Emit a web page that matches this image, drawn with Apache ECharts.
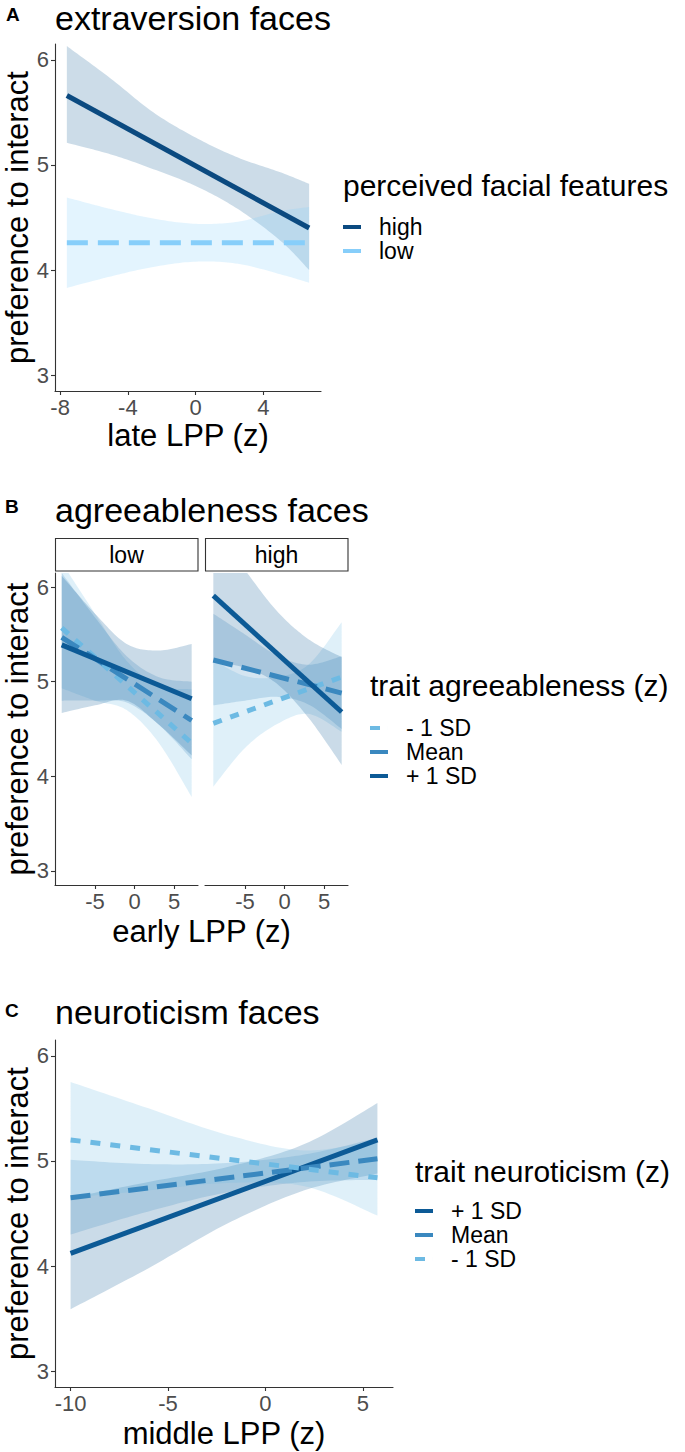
<!DOCTYPE html>
<html><head><meta charset="utf-8">
<script src="https://cdn.jsdelivr.net/npm/echarts@6/dist/echarts.min.js"></script>
<style>html,body{margin:0;padding:0;background:#fff}#c{width:685px;height:1452px}</style>
</head><body><div id="c"></div>
<script>
// ================= DATA =================
// Panel A: extraversion faces (x = late LPP (z))
const aLineX = [-7.6, 6.7];
const aHighLine = [5.66, 4.40];
const aLowLine = [4.26, 4.26];
const aBandX = [-7.6, -5, -2.5, 0, 2.5, 5, 6.7];
const aHighLower = [5.21, 5.10, 4.96, 4.80, 4.58, 4.28, 4.00];
const aHighUpper = [6.13, 5.82, 5.50, 5.26, 5.07, 4.93, 4.82];
const aLowLower = [3.83, 3.94, 4.03, 4.08, 4.06, 3.96, 3.88];
const aLowUpper = [4.69, 4.58, 4.49, 4.44, 4.46, 4.56, 4.60];
const aXTicks = [-8, -4, 0, 4];

// Panel B: agreeableness faces, facet "low" (x = early LPP (z))
const bLowLineX = [-9.2, 7.2];
const bLowMinusLine = [5.57, 4.35];
const bLowMeanLine = [5.47, 4.59];
const bLowPlusLine = [5.39, 4.82];
const bLowBandX = [-9.2, -5, -1, 3, 7.2];
const bLowMinusLower = [4.93, 4.80, 4.70, 4.36, 3.78];
const bLowMinusUpper = [6.26, 5.72, 5.22, 4.96, 4.92];
const bLowMeanLower = [4.80, 4.80, 4.78, 4.55, 4.18];
const bLowMeanUpper = [6.15, 5.68, 5.27, 5.05, 5.00];
const bLowPlusLower = [4.67, 4.75, 4.80, 4.55, 4.22];
const bLowPlusUpper = [6.12, 5.72, 5.40, 5.33, 5.40];

// Panel B: facet "high"
const bHighLineX = [-9.0, 7.2];
const bHighMinusLine = [4.56, 5.05];
const bHighMeanLine = [5.23, 4.88];
const bHighPlusLine = [5.91, 4.68];
const bHighBandX = [-9.0, -5, -1, 3, 7.2];
const bHighMinusLower = [3.89, 4.30, 4.55, 4.66, 4.47];
const bHighMinusUpper = [5.23, 5.06, 5.05, 5.18, 5.63];
const bHighMeanLower = [4.75, 4.80, 4.84, 4.76, 4.50];
const bHighMeanUpper = [5.72, 5.50, 5.28, 5.18, 5.27];
const bHighPlusLower = [5.20, 5.15, 4.98, 4.62, 4.12];
const bHighPlusUpper = [6.62, 6.18, 5.75, 5.45, 5.26];
const bXTicks = [-5, 0, 5];

// Panel C: neuroticism faces (x = middle LPP (z))
const cLineX = [-10, 5.75];
const cPlusLine = [4.12, 5.20];
const cMeanLine = [4.65, 5.02];
const cMinusLine = [5.20, 4.84];
const cBandX = [-10, -6, -2, 2, 5.75];
const cPlusLower = [3.59, 3.98, 4.40, 4.72, 4.88];
const cPlusUpper = [4.65, 4.80, 4.94, 5.16, 5.55];
const cMeanLower = [4.30, 4.52, 4.70, 4.80, 4.82];
const cMeanUpper = [5.01, 4.97, 4.98, 5.06, 5.22];
const cMinusLower = [4.65, 4.72, 4.79, 4.76, 4.48];
const cMinusUpper = [5.75, 5.50, 5.25, 5.10, 5.20];
const cXTicks = [-10, -5, 0, 5];

const yTicks = [3, 4, 5, 6];

// ================= STYLE =================
const FONT = '"Liberation Sans", Arial, Helvetica, sans-serif';
const C_HIGH = '#0B4A80', C_LOW = '#87CEFA';
const C_PLUS = '#0C5A96', C_MEAN = '#3A88BF', C_MINUS = '#6DBAE3';
const F_HIGH = 'rgba(25,95,150,0.22)', F_LOW = 'rgba(135,206,250,0.23)';
const F_PLUS = 'rgba(12,90,150,0.22)', F_MEAN = 'rgba(58,136,191,0.22)', F_MINUS = 'rgba(109,186,227,0.22)';
const LW = 5;

function zip(xs, ys) { return xs.map((x, i) => [x, ys[i]]); }

function lineSeries(name, gi, xs, ys, color, dash) {
  return {
    name: name, type: 'line', xAxisIndex: gi, yAxisIndex: gi,
    data: zip(xs, ys), symbol: 'none', showSymbol: false, silent: true, clip: true,
    itemStyle: { color: color },
    lineStyle: { color: color, width: LW, type: dash || 'solid', cap: 'butt' },
    z: 2
  };
}

// Catmull-Rom through pixel points (drawing only)
function spline(p) {
  const out = [];
  const n = p.length;
  for (let i = 0; i < n - 1; i++) {
    const p0 = p[Math.max(0, i - 1)], p1 = p[i], p2 = p[i + 1], p3 = p[Math.min(n - 1, i + 2)];
    const steps = 16;
    for (let s = 0; s < steps; s++) {
      const t = s / steps, t2 = t * t, t3 = t2 * t;
      const f = (a, b, c, d) => 0.5 * ((2 * b) + (-a + c) * t + (2 * a - 5 * b + 4 * c - d) * t2 + (-a + 3 * b - 3 * c + d) * t3);
      out.push([f(p0[0], p1[0], p2[0], p3[0]), f(p0[1], p1[1], p2[1], p3[1])]);
    }
  }
  out.push(p[n - 1]);
  return out;
}

function bandSeries(gi, xs, lo, hi, fill) {
  return {
    type: 'custom', xAxisIndex: gi, yAxisIndex: gi, clip: true, silent: true, z: 2,
    data: xs.map((x, i) => [x, lo[i], hi[i]]),
    encode: { x: 0, y: [1, 2] },
    renderItem: function (params, api) {
      if (params.dataIndex !== 0) return null;
      const up = xs.map((x, i) => api.coord([x, hi[i]]));
      const dn = xs.map((x, i) => api.coord([x, lo[i]]));
      const pts = spline(up).concat(spline(dn).reverse());
      return { type: 'polygon', shape: { points: pts }, style: { fill: fill, stroke: null } };
    }
  };
}

const axisCol = '#333333';
function xAxisCfg(gi, min, max, ticks) {
  return {
    type: 'value', gridIndex: gi, min: min, max: max,
    axisLine: { show: true, onZero: false, lineStyle: { color: axisCol, width: 1.1 } },
    axisTick: { show: true, length: 4, customValues: ticks, lineStyle: { color: axisCol, width: 1.1 } },
    axisLabel: { show: true, customValues: ticks, color: '#4D4D4D', fontSize: 22, fontFamily: FONT, margin: 5 },
    splitLine: { show: false }
  };
}
function yAxisCfg(gi, show) {
  return {
    type: 'value', gridIndex: gi, min: 2.85, max: 6.15,
    axisLine: { show: show, onZero: false, lineStyle: { color: axisCol, width: 1.1 } },
    axisTick: { show: show, length: 4, customValues: yTicks, lineStyle: { color: axisCol, width: 1.1 } },
    axisLabel: { show: show, customValues: yTicks, color: '#4D4D4D', fontSize: 22, fontFamily: FONT, margin: 6 },
    splitLine: { show: false }
  };
}

function txt(text, x, y, size, opts) {
  opts = opts || {};
  const align = opts.align || 'left';
  return {
    type: 'text', x: x, y: y, rotation: opts.rotation || 0, silent: true, z: 10,
    style: {
      text: text, fill: opts.color || '#000', font: (opts.bold ? 'bold ' : '') + size + 'px ' + FONT,
      align: align, verticalAlign: 'middle', textAlign: align, textVerticalAlign: 'middle'
    }
  };
}

const SHORT_ICON = 'path://M0,0H10V4H0Z M17.99,0H18V4H17.99Z';
function legendCfg(left, top, gap, data) {
  return {
    orient: 'vertical', left: left, top: top, padding: 0, itemGap: gap,
    itemWidth: 18, itemHeight: 4, selectedMode: false,
    textStyle: { fontSize: 23, fontFamily: FONT, color: '#000', padding: [0, 0, 0, 13] },
    data: data
  };
}

const option = {
  animation: false,
  backgroundColor: '#fff',
  grid: [
    { left: 55, top: 44, width: 266, height: 347, containLabel: false, outerBoundsMode: 'none' },
    { left: 55, top: 573, width: 143, height: 312, containLabel: false, outerBoundsMode: 'none' },
    { left: 205, top: 573, width: 143, height: 312, containLabel: false, outerBoundsMode: 'none' },
    { left: 55, top: 1040, width: 338, height: 347, containLabel: false, outerBoundsMode: 'none' }
  ],
  xAxis: [
    xAxisCfg(0, -8.3, 7.4, aXTicks),
    xAxisCfg(1, -10.05, 8.0, bXTicks),
    xAxisCfg(2, -10.05, 8.0, bXTicks),
    xAxisCfg(3, -10.8, 6.55, cXTicks)
  ],
  yAxis: [yAxisCfg(0, true), yAxisCfg(1, true), yAxisCfg(2, false), yAxisCfg(3, true)],
  legend: [
    legendCfg(343, 215.5, 1, [{ name: 'high', icon: 'rect' }, { name: 'low', icon: 'rect' }]),
    legendCfg(370, 716.5, 1, [{ name: '- 1 SD', icon: SHORT_ICON }, { name: 'Mean', icon: 'rect' }, { name: '+ 1 SD', icon: 'rect' }]),
    legendCfg(415, 1199.5, 1, [{ name: '+ 1 SD', icon: 'rect' }, { name: 'Mean', icon: 'rect' }, { name: '- 1 SD', icon: SHORT_ICON }])
  ],
  series: [
    // Panel A
    lineSeries('high', 0, aLineX, aHighLine, C_HIGH),
    lineSeries('low', 0, aLineX, aLowLine, C_LOW, [21, 10]),
    bandSeries(0, aBandX, aHighLower, aHighUpper, F_HIGH),
    bandSeries(0, aBandX, aLowLower, aLowUpper, F_LOW),
    // Panel B low facet
    lineSeries('- 1 SD', 1, bLowLineX, bLowMinusLine, C_MINUS, [9, 9]),
    lineSeries('Mean', 1, bLowLineX, bLowMeanLine, C_MEAN, [20, 9]),
    lineSeries('+ 1 SD', 1, bLowLineX, bLowPlusLine, C_PLUS),
    bandSeries(1, bLowBandX, bLowMinusLower, bLowMinusUpper, F_MINUS),
    bandSeries(1, bLowBandX, bLowMeanLower, bLowMeanUpper, F_MEAN),
    bandSeries(1, bLowBandX, bLowPlusLower, bLowPlusUpper, F_PLUS),
    // Panel B high facet
    lineSeries('- 1 SD', 2, bHighLineX, bHighMinusLine, C_MINUS, [9, 9]),
    lineSeries('Mean', 2, bHighLineX, bHighMeanLine, C_MEAN, [20, 9]),
    lineSeries('+ 1 SD', 2, bHighLineX, bHighPlusLine, C_PLUS),
    bandSeries(2, bHighBandX, bHighMinusLower, bHighMinusUpper, F_MINUS),
    bandSeries(2, bHighBandX, bHighMeanLower, bHighMeanUpper, F_MEAN),
    bandSeries(2, bHighBandX, bHighPlusLower, bHighPlusUpper, F_PLUS),
    // Panel C
    lineSeries('+ 1 SD', 3, cLineX, cPlusLine, C_PLUS),
    lineSeries('Mean', 3, cLineX, cMeanLine, C_MEAN, [20, 9]),
    lineSeries('- 1 SD', 3, cLineX, cMinusLine, C_MINUS, [10, 10]),
    bandSeries(3, cBandX, cPlusLower, cPlusUpper, F_PLUS),
    bandSeries(3, cBandX, cMeanLower, cMeanUpper, F_MEAN),
    bandSeries(3, cBandX, cMinusLower, cMinusUpper, F_MINUS)
  ],
  graphic: [
    // Panel A
    txt('A', 6, 14, 19, { bold: true }),
    txt('extraversion faces', 55, 18, 34),
    txt('preference to interact', 17.6, 217.5, 31, { align: 'center', rotation: Math.PI / 2 }),
    txt('late LPP (z)', 188, 435.5, 31, { align: 'center' }),
    txt('perceived facial features', 343, 185.6, 30),
    // Panel B
    txt('B', 5, 506.7, 19, { bold: true }),
    txt('agreeableness faces', 55, 510, 34),
    { type: 'rect', shape: { x: 55.5, y: 538.5, width: 142.5, height: 32.5 }, style: { fill: '#fff', stroke: '#333', lineWidth: 1.1 }, silent: true, z: 5 },
    { type: 'rect', shape: { x: 205.5, y: 538.5, width: 142.5, height: 32.5 }, style: { fill: '#fff', stroke: '#333', lineWidth: 1.1 }, silent: true, z: 5 },
    txt('low', 126.5, 555.4, 23, { align: 'center' }),
    txt('high', 276.5, 555.4, 23, { align: 'center' }),
    txt('preference to interact', 17.6, 729, 31, { align: 'center', rotation: Math.PI / 2 }),
    txt('early LPP (z)', 201.5, 931.5, 31, { align: 'center' }),
    txt('trait agreeableness (z)', 370, 685.6, 30),
    // Panel C
    txt('C', 5, 1010, 19, { bold: true }),
    txt('neuroticism faces', 55, 1011.5, 34),
    txt('preference to interact', 17.6, 1213.5, 31, { align: 'center', rotation: Math.PI / 2 }),
    txt('middle LPP (z)', 224, 1433, 31, { align: 'center' }),
    txt('trait neuroticism (z)', 415, 1171.6, 30)
  ]
};

const chart = echarts.init(document.getElementById('c'), null, { renderer: 'svg', width: 685, height: 1452 });
chart.setOption(option);
</script>
</body></html>
